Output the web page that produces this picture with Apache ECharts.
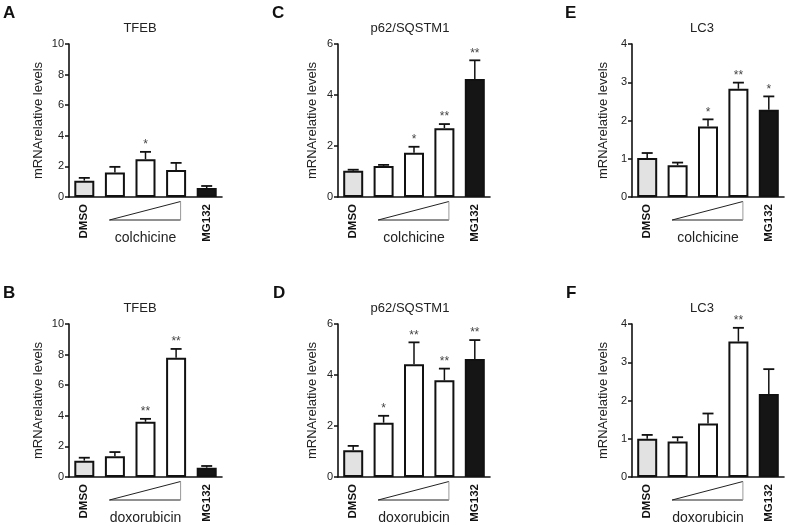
<!DOCTYPE html>
<html>
<head>
<meta charset="utf-8">
<script src="https://cdn.jsdelivr.net/npm/echarts@6/dist/echarts.min.js"></script>
<style>
html,body{margin:0;padding:0;background:#fff;}
#chart{width:787px;height:527px;}
</style>
</head>
<body>
<div id="chart"></div>
<script>
// ---------- data ----------
var categories = ['DMSO', 'dose1', 'dose2', 'dose3', 'MG132'];
var yAxisName = 'mRNArelative levels';

var A_title = 'TFEB', A_drug = 'colchicine';
var A_mean = [1.07, 1.60, 2.47, 1.77, 0.59];
var A_err  = [0.18, 0.37, 0.48, 0.46, 0.13];
var A_sig  = ['', '', '*', '', ''];

var B_title = 'TFEB', B_drug = 'doxorubicin';
var B_mean = [1.07, 1.35, 3.61, 7.80, 0.61];
var B_err  = [0.19, 0.28, 0.19, 0.57, 0.11];
var B_sig  = ['', '', '**', '**', ''];

var C_title = 'p62/SQSTM1', C_drug = 'colchicine';
var C_mean = [1.03, 1.22, 1.74, 2.70, 4.63];
var C_err  = [0.04, 0.04, 0.23, 0.16, 0.73];
var C_sig  = ['', '', '*', '**', '**'];

var D_title = 'p62/SQSTM1', D_drug = 'doxorubicin';
var D_mean = [1.05, 2.13, 4.42, 3.79, 4.63];
var D_err  = [0.17, 0.27, 0.86, 0.46, 0.74];
var D_sig  = ['', '*', '**', '**', '**'];

var E_title = 'LC3', E_drug = 'colchicine';
var E_mean = [1.02, 0.83, 1.84, 2.83, 2.28];
var E_err  = [0.13, 0.07, 0.19, 0.16, 0.35];
var E_sig  = ['', '', '*', '**', '*'];

var F_title = 'LC3', F_drug = 'doxorubicin';
var F_mean = [1.00, 0.93, 1.40, 3.54, 2.17];
var F_err  = [0.10, 0.11, 0.26, 0.36, 0.65];
var F_sig  = ['', '', '', '**', ''];

var A_ymax = 10, A_step = 2;
var B_ymax = 10, B_step = 2;
var C_ymax = 6,  C_step = 2;
var D_ymax = 6,  D_step = 2;
var E_ymax = 4,  E_step = 1;
var F_ymax = 4,  F_step = 1;

// ---------- layout / style ----------
var FONT = '"Liberation Sans", Arial, Helvetica, sans-serif';
var panels = [
  {letter:'A', title:A_title, drug:A_drug, mean:A_mean, err:A_err, sig:A_sig, ymax:A_ymax, step:A_step,
   grid:{left:69, top:44, width:153, height:153}, lx:3, ly:5, tx:140, ty:28, nameGap:24},
  {letter:'C', title:C_title, drug:C_drug, mean:C_mean, err:C_err, sig:C_sig, ymax:C_ymax, step:C_step,
   grid:{left:338, top:44, width:152, height:153}, lx:272, ly:5, tx:410, ty:28, nameGap:19},
  {letter:'E', title:E_title, drug:E_drug, mean:E_mean, err:E_err, sig:E_sig, ymax:E_ymax, step:E_step,
   grid:{left:632, top:44, width:152, height:153}, lx:565, ly:5, tx:702, ty:28, nameGap:22},
  {letter:'B', title:B_title, drug:B_drug, mean:B_mean, err:B_err, sig:B_sig, ymax:B_ymax, step:B_step,
   grid:{left:69, top:324, width:153, height:153}, lx:3, ly:285, tx:140, ty:308, nameGap:24},
  {letter:'D', title:D_title, drug:D_drug, mean:D_mean, err:D_err, sig:D_sig, ymax:D_ymax, step:D_step,
   grid:{left:338, top:324, width:152, height:153}, lx:273, ly:285, tx:410, ty:308, nameGap:19},
  {letter:'F', title:F_title, drug:F_drug, mean:F_mean, err:F_err, sig:F_sig, ymax:F_ymax, step:F_step,
   grid:{left:632, top:324, width:152, height:153}, lx:566, ly:285, tx:702, ty:308, nameGap:22}
];
var barColors = ['#e2e2e2', '#ffffff', '#ffffff', '#ffffff', '#151515'];

var option = {
  animation:false,
  backgroundColor:'#ffffff',
  grid:[], xAxis:[], yAxis:[], series:[], graphic:[]
};

panels.forEach(function(p, k){
  option.grid.push(Object.assign({containLabel:false}, p.grid));
  option.xAxis.push({
    type:'category', gridIndex:k, data:categories,
    axisLine:{lineStyle:{color:'#111', width:1.6}},
    axisTick:{show:false},
    axisLabel:{
      rotate:90, margin:7, interval:0,
      fontFamily:FONT, fontSize:11.5, fontWeight:'bold', color:'#111',
      formatter:function(v, i){ return (i === 0 || i === categories.length-1) ? v : ''; }
    },
    name:p.drug, nameLocation:'middle', nameGap:34, nameMoveOverlap:false,
    nameTextStyle:{fontFamily:FONT, fontSize:14, color:'#222'}
  });
  option.yAxis.push({
    type:'value', gridIndex:k, min:0, max:p.ymax, interval:p.step,
    axisLine:{show:true, lineStyle:{color:'#111', width:1.6}},
    axisTick:{show:true, length:4, lineStyle:{color:'#111', width:1.5}},
    axisLabel:{fontFamily:FONT, fontSize:11, color:'#222', margin:5},
    splitLine:{show:false},
    name:yAxisName, nameLocation:'middle', nameGap:p.nameGap, nameRotate:90, nameMoveOverlap:false,
    nameTextStyle:{fontFamily:FONT, fontSize:13, color:'#222'}
  });
  option.series.push({
    type:'bar', xAxisIndex:k, yAxisIndex:k, barWidth:20,
    data:p.mean.map(function(v, i){
      return {value:v, itemStyle:{color:barColors[i], borderColor:'#111', borderWidth:2}};
    }),
    z:2
  });
  var sig = p.sig;
  option.series.push({
    type:'custom', xAxisIndex:k, yAxisIndex:k, clip:false, z:3,
    data:p.mean.map(function(v, i){ return [i, v, p.err[i]]; }),
    renderItem:function(params, api){
      var x = api.value(0), m = api.value(1), e = api.value(2);
      var p0 = api.coord([x, m]);
      var p1 = api.coord([x, m + e]);
      var children = [
        {type:'line', shape:{x1:p0[0], y1:p0[1], x2:p1[0], y2:p1[1]}, style:{stroke:'#111', lineWidth:1.5}},
        {type:'line', shape:{x1:p1[0]-5.5, y1:p1[1], x2:p1[0]+5.5, y2:p1[1]}, style:{stroke:'#111', lineWidth:1.8}}
      ];
      var s = sig[params.dataIndex];
      if (s) {
        children.push({type:'text', style:{text:s, x:p1[0], y:p1[1]-1, textAlign:'center', textVerticalAlign:'bottom',
          fontFamily:FONT, fontSize:12, fill:'#444'}});
      }
      return {type:'group', children:children};
    }
  });
  option.series.push({
    type:'custom', xAxisIndex:k, yAxisIndex:k, clip:false, z:3, silent:true,
    data:[[1, 3]],
    renderItem:function(params, api){
      var pl = api.coord([api.value(0), 0]);
      var pr = api.coord([api.value(1), 0]);
      var x0 = pl[0] - 5.5, x1 = pr[0] + 4.5;
      var yt = pl[1] + 4.5, yb = pl[1] + 23;
      return {type:'group', children:[
        {type:'line', shape:{x1:x0, y1:yb, x2:x1, y2:yt}, style:{stroke:'#222', lineWidth:1}},
        {type:'line', shape:{x1:x0, y1:yb, x2:x1, y2:yb}, style:{stroke:'#222', lineWidth:1}},
        {type:'line', shape:{x1:x1, y1:yt, x2:x1, y2:yb}, style:{stroke:'#999', lineWidth:1}}
      ]};
    }
  });
  option.graphic.push({
    type:'text', left:p.lx, top:p.ly,
    style:{text:p.letter, font:'bold 17px ' + FONT, fill:'#111'}
  });
  option.graphic.push({
    type:'text', x:p.tx, y:p.ty,
    style:{text:p.title, textAlign:'center', textVerticalAlign:'middle', font:'13px ' + FONT, fill:'#222'}
  });
});

var chart = echarts.init(document.getElementById('chart'), null, {renderer:'canvas'});
chart.setOption(option);
</script>
</body>
</html>
